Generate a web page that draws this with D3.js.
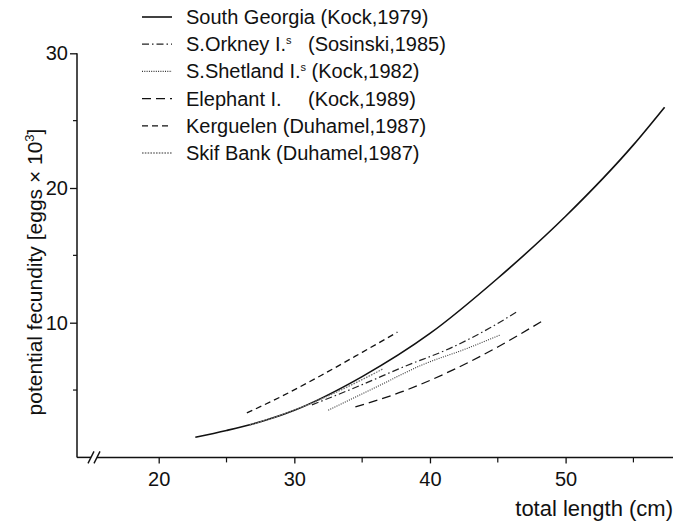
<!DOCTYPE html>
<html>
    <head>
        <script src="https://d3js.org/d3.v7.min.js"></script>
        <style>
            body { margin: 0; background: #fff; }
            text { font-family: "Liberation Sans", Arial, sans-serif; fill: #111; }
        </style>
    </head>
    <body>
        <div id="Graph"></div>
        <script>
            // curves: [total length (cm), fecundity (eggs x 10^3)]
            var southGeorgia = [[22.7,1.5],[25,2.0],[27,2.5],[30,3.5],[35,6.0],[40,9.2],[45,13.3],[50,17.9],[55,23.2],[57.3,26.0]]
            var sOrkney = [[31.3,3.9],[35,5.4],[38,6.7],[41.7,8.2],[44.4,9.6],[46.4,10.8]]
            var sShetland = [[32.5,3.5],[36,5.2],[39.5,6.9],[42.5,8.0],[45.2,9.1]]
            var elephant = [[34.5,3.75],[38,4.9],[41.5,6.4],[45,8.2],[48.4,10.2]]
            var kerguelen = [[26.5,3.3],[29,4.5],[32,6.1],[35,7.8],[37.6,9.3]]
            var skifBank = [[26.7,2.4],[30,3.5],[33,4.8],[36.5,6.55]]

            var seriesNames = ["South Georgia", "S.Orkney I.", "S.Shetland I.", "Elephant I.", "Kerguelen", "Skif Bank"]
            var seriesRefs = ["(Kock,1979)", "(Sosinski,1985)", "(Kock,1982)", "(Kock,1989)", "(Duhamel,1987)", "(Duhamel,1987)"]
            var seriesData = [southGeorgia, sOrkney, sShetland, elephant, kerguelen, skifBank]

            var xMajor = [20, 30, 40, 50]
            var xMinor = [25, 35, 45, 55]
            var yMajor = [10, 20, 30]
            var yMinor = [5, 15, 25]

            var width = 688, height = 522

            var svg = d3.select("#Graph").append("svg")
                .attr("width", width)
                .attr("height", height)

            // scales
            var x = d3.scaleLinear().domain([20, 50]).range([158.7, 565.6])
            var y = d3.scaleLinear().domain([0, 30]).range([457.4, 53.3])

            var axisLeftX = 77, axisRightX = 673

            // line styles for each series
            var styles = [
                {dash: null, w: 1.6, c: "#111"},
                {dash: "7,3,1.5,3", w: 1.2, c: "#222"},
                {dash: "1,1.3", w: 1.1, c: "#333"},
                {dash: "9,5", w: 1.3, c: "#111"},
                {dash: "6,4", w: 1.3, c: "#111"},
                {dash: "1.6,1.2", w: 1.3, c: "#777"}
            ]

            // y axis
            var yAxis = svg.append("g")
                .attr("transform", "translate(" + axisLeftX + ",0)")
                .call(d3.axisLeft(y).tickValues(yMajor).tickSize(7).tickSizeOuter(0).tickPadding(2))
            yAxis.select(".domain").remove()
            yAxis.selectAll("text").attr("font-size", "20px")
                .style("font-family", "Liberation Sans, Arial, sans-serif")
            yAxis.selectAll("line").attr("stroke", "#111").attr("stroke-width", 1.3)

            svg.append("line")
                .attr("x1", axisLeftX).attr("x2", axisLeftX)
                .attr("y1", y(30)).attr("y2", y(0))
                .attr("stroke", "#111").attr("stroke-width", 1.5)

            svg.selectAll(".yminor")
                .data(yMinor)
                .enter()
                .append("line")
                    .attr("x1", axisLeftX - 4).attr("x2", axisLeftX)
                    .attr("y1", function(d){ return y(d) })
                    .attr("y2", function(d){ return y(d) })
                    .attr("stroke", "#111").attr("stroke-width", 1.2)

            // x axis with break marks
            var xAxis = svg.append("g")
                .attr("transform", "translate(0," + y(0) + ")")
                .call(d3.axisBottom(x).tickValues(xMajor).tickSize(6).tickSizeOuter(0).tickPadding(8))
            xAxis.select(".domain").remove()
            xAxis.selectAll("text").attr("font-size", "20px")
                .style("font-family", "Liberation Sans, Arial, sans-serif")
            xAxis.selectAll("line").attr("stroke", "#111").attr("stroke-width", 1.3)

            svg.selectAll(".xminor")
                .data(xMinor)
                .enter()
                .append("line")
                    .attr("x1", function(d){ return x(d) })
                    .attr("x2", function(d){ return x(d) })
                    .attr("y1", y(0)).attr("y2", y(0) + 5)
                    .attr("stroke", "#111").attr("stroke-width", 1.2)

            var breakX = 94
            svg.append("line")
                .attr("x1", axisLeftX).attr("x2", breakX - 3)
                .attr("y1", y(0)).attr("y2", y(0))
                .attr("stroke", "#111").attr("stroke-width", 1.5)
            svg.append("line")
                .attr("x1", breakX + 3).attr("x2", axisRightX)
                .attr("y1", y(0)).attr("y2", y(0))
                .attr("stroke", "#111").attr("stroke-width", 1.5)
            svg.selectAll(".brk")
                .data([-3, 3])
                .enter()
                .append("line")
                    .attr("x1", function(d){ return breakX + d - 3 })
                    .attr("x2", function(d){ return breakX + d + 3 })
                    .attr("y1", y(0) + 6).attr("y2", y(0) - 6)
                    .attr("stroke", "#111").attr("stroke-width", 1.4)

            // axis titles
            svg.append("text")
                .attr("x", axisRightX)
                .attr("y", 516)
                .attr("text-anchor", "end")
                .attr("font-size", "22px")
                .text("total length (cm)")

            var yTitle = svg.append("text")
                .attr("transform", "translate(42," + 272 + ") rotate(-90)")
                .attr("text-anchor", "middle")
                .attr("font-size", "21px")
            yTitle.append("tspan").text("potential fecundity [eggs \u00d7 10")
            yTitle.append("tspan").attr("dy", -8).attr("font-size", "13px").text("3")
            yTitle.append("tspan").attr("dy", 8).text("]")

            // curves
            var line = d3.line()
                .x(function(d){ return x(d[0]) })
                .y(function(d){ return y(d[1]) })
                .curve(d3.curveMonotoneX)

            svg.selectAll(".curve")
                .data(seriesData)
                .enter()
                .append("path")
                    .attr("d", line)
                    .attr("fill", "none")
                    .attr("stroke", function(d, i){ return styles[i].c })
                    .attr("stroke-width", function(d, i){ return styles[i].w })
                    .attr("stroke-dasharray", function(d, i){ return styles[i].dash })

            // legend
            var legRow0 = 17, legStep = 27.2
            var leg = svg.selectAll(".leg")
                .data(seriesNames)
                .enter()
                .append("g")
                    .attr("transform", function(d, i){ return "translate(0," + (legRow0 + i * legStep) + ")" })

            leg.append("line")
                .attr("x1", 142).attr("x2", 172)
                .attr("y1", 0).attr("y2", 0)
                .attr("stroke", function(d, i){ return styles[i].c })
                .attr("stroke-width", function(d, i){ return styles[i].w })
                .attr("stroke-dasharray", function(d, i){ return styles[i].dash })

            var sup = [false, true, true, false, false, false]
            var refX = [null, 308, null, 308, null, null]

            leg.each(function(d, i){
                var g = d3.select(this)
                var t = g.append("text")
                    .attr("x", 186).attr("y", 7)
                    .attr("font-size", "20px")
                t.append("tspan").text(d)
                if (sup[i]) {
                    t.append("tspan").attr("dy", -7).attr("font-size", "11px").text("s")
                    t.append("tspan").attr("dy", 7).text(refX[i] ? "" : " ")
                } else if (!refX[i]) {
                    t.append("tspan").text(" ")
                }
                if (refX[i]) {
                    g.append("text")
                        .attr("x", refX[i]).attr("y", 7)
                        .attr("font-size", "20px")
                        .text(seriesRefs[i])
                } else {
                    t.append("tspan").text(seriesRefs[i])
                }
            })
        </script>
    </body>
</html>
